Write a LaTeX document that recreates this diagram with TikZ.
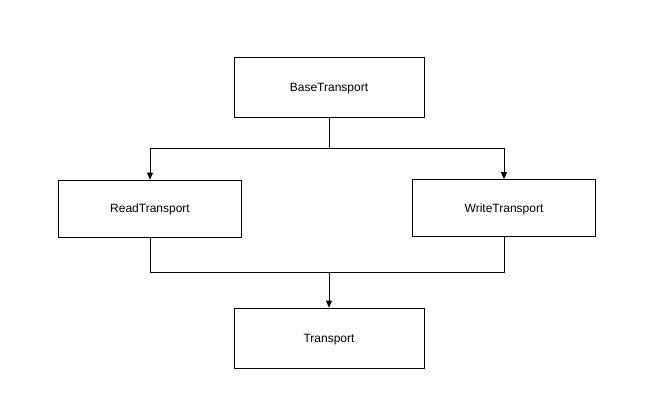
\documentclass[tikz,border=0pt]{standalone}
\usepackage{fontspec}
\setmainfont{Liberation Sans}
\usepackage{tikz}
\usetikzlibrary{positioning,arrows.meta}

\begin{document}
\begin{tikzpicture}[
    x = 1pt, y = -1pt,
    box/.style = {draw, line width=0.8pt, minimum width=190pt, minimum height=60pt, align=center, text height=11pt, text depth=2.5pt, font=\fontsize{12}{14}\selectfont},
    side/.style = {box, minimum width=183pt, minimum height=57pt},
    > = {Triangle[length=7pt, width=6pt]}
]
\useasboundingbox (0,0) rectangle (650,400);
\node (base) [box] at (329,87) {BaseTransport};
\node (read) [side] at (150,208.5) {ReadTransport};
\node (write) [side] at (504,208) {WriteTransport};
\node (tr) [box] at (329,338) {Transport};
\coordinate (split) at (329,148);
\coordinate (join) at (329,272);

\draw[line width=0.8pt] (base) to (split);
\draw[->, line width=0.8pt] (split) -| (read);
\draw[->, line width=0.8pt] (split) -| (write);
\draw[line width=0.8pt] (read) |- (join);
\draw[line width=0.8pt] (write) |- (join);
\draw[->, line width=0.8pt] (join) to (tr);
\end{tikzpicture}
\end{document}
